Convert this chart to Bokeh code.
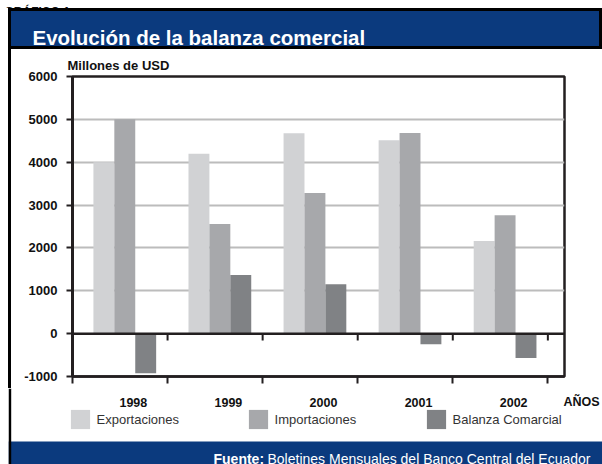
from bokeh.plotting import figure
from bokeh.models import (ColumnDataSource, FixedTicker, Span, Label, BoxAnnotation,
                          Legend, LegendItem, Range1d, Spacer)
from bokeh.layouts import column, row
from bokeh.transform import dodge
from bokeh.core.properties import value
from bokeh.embed import file_html
from bokeh.resources import INLINE

# ---------------- data ----------------
years = ["1998", "1999", "2000", "2001", "2002"]
exportaciones = [4000, 4200, 4675, 4510, 2160]
importaciones = [5000, 2560, 3280, 4680, 2765]
balanza = [-925, 1370, 1150, -250, -570]
y_ticks = [-1000, 0, 1000, 2000, 3000, 4000, 5000, 6000]
grid_values = [1000, 2000, 3000, 4000, 5000]

chart_number = "GRÁFICO 1"
title_text = "Evolución de la balanza comercial"
unit_text = "Millones de USD"
axis_text = "AÑOS"
source_bold = "Fuente:"
source_text = "Boletines Mensuales del Banco Central del Ecuador"
series_names = ["Exportaciones", "Importaciones", "Balanza Comarcial"]

# ---------------- style ----------------
colors = ["#d1d2d4", "#a7a8ab", "#808285"]
NAVY = "#0b3a7e"
INK = "#231f20"
FONT = "Liberation Sans"

PAGE_W, PAGE_H = 602, 464
LEFT_GAP = 8
TOP_H = 8
BOX_W = PAGE_W - LEFT_GAP          # 594
STRIP_W = 3
MAIN_W = BOX_W - STRIP_W            # 591
HEAD_H = 41
MAIN_H = 339
FOOT_H = PAGE_H - TOP_H - HEAD_H - MAIN_H   # 76
FL, FR, FT, FB = 61, 38, 27, 12
GROUP_SHIFT = 0.05
LABEL_SHIFT = 0.14
BAR_W = 0.22
X_START, X_END = -0.5, 4.675
UNIT_PX = (MAIN_W - FL - FR) / (X_END - X_START)


def blank(w, h, fill, x_range=None, y_range=None):
    f = figure(width=w, height=h, output_backend="svg", toolbar_location=None,
               x_range=x_range or Range1d(0, 1), y_range=y_range or Range1d(0, 1),
               x_axis_location=None, y_axis_location=None, min_border=0)
    f.grid.visible = False
    f.background_fill_color = fill
    f.border_fill_color = fill
    f.outline_line_color = None
    return f


def screen_label(f, x, y, text, size, color, style="normal"):
    f.add_layout(Label(x=x, y=y, x_units="screen", y_units="screen", text=text,
                       text_font=FONT, text_font_size=size, text_font_style=style,
                       text_color=color, text_baseline="alphabetic"))


# ---------------- top strip (cut-off chart number) ----------------
top = blank(PAGE_W, TOP_H, "white")
screen_label(top, 4, 0.5, chart_number, "12px", "#111111", "bold")

# ---------------- header ----------------
head = blank(BOX_W, HEAD_H, NAVY)
head.outline_line_color = "black"
head.outline_line_width = 5
screen_label(head, 24, 12.3, title_text, "20.5px", "white", "bold")

# ---------------- main chart ----------------
idx = list(range(len(years)))
src = ColumnDataSource(dict(
    x=[i + GROUP_SHIFT for i in idx],
    exp=exportaciones, imp=importaciones, bal=balanza,
))

p = figure(width=MAIN_W, height=MAIN_H, output_backend="svg", toolbar_location=None,
           x_range=Range1d(X_START, X_END), y_range=Range1d(-1000, 6000),
           min_border_left=FL, min_border_right=FR,
           min_border_top=FT, min_border_bottom=FB)
p.background_fill_color = "white"
p.border_fill_color = "white"
p.outline_line_color = INK
p.outline_line_width = 2.5

p.title.text = unit_text
p.title.text_font = FONT
p.title.text_font_size = "13px"
p.title.text_font_style = "bold"
p.title.text_color = "#111111"
p.title.align = "left"
p.title.offset = -5
p.title.standoff = 7

p.xgrid.visible = False
p.ygrid.ticker = FixedTicker(ticks=grid_values)
p.ygrid.grid_line_color = "#bcbcbc"
p.ygrid.grid_line_width = 1.8

p.vbar(x=dodge("x", -BAR_W), top="exp", width=BAR_W, source=src,
       fill_color=colors[0], line_color=None)
p.vbar(x="x", top="imp", width=BAR_W, source=src,
       fill_color=colors[1], line_color=None)
p.vbar(x=dodge("x", BAR_W), top="bal", width=BAR_W, source=src,
       fill_color=colors[2], line_color=None)

p.add_layout(Span(location=0, dimension="width", line_color=INK, line_width=2.5))
bounds = [i + 0.5 for i in idx]
p.segment(x0=bounds, y0=[0] * len(bounds), x1=bounds, y1=[-160] * len(bounds),
          line_color=INK, line_width=2)

ya = p.yaxis[0]
ya.ticker = FixedTicker(ticks=y_ticks)
ya.major_label_overrides = {t: str(t) for t in y_ticks}
ya.axis_line_color = INK
ya.axis_line_width = 3
ya.major_tick_out = 6
ya.major_tick_in = 0
ya.major_tick_line_width = 2
ya.major_tick_line_color = INK
ya.minor_tick_line_color = None
ya.major_label_text_font = FONT
ya.major_label_text_font_style = "bold"
ya.major_label_text_font_size = "13px"
ya.major_label_text_color = "#111111"
ya.major_label_standoff = 9

# x axis: only the separators between the years
xa = p.xaxis[0]
xa.ticker = FixedTicker(ticks=[], minor_ticks=[X_START] + bounds)
xa.axis_line_color = INK
xa.axis_line_width = 2.5
xa.major_tick_line_color = None
xa.minor_tick_out = 7
xa.minor_tick_in = 0
xa.minor_tick_line_width = 2
xa.minor_tick_line_color = INK

strip = Spacer(width=STRIP_W, height=MAIN_H, styles={"background-color": "black"})

# ---------------- year labels, legend, footer ----------------
# same horizontal scale as the chart above (shared pixel mapping)
foot_x = Range1d(X_START - (STRIP_W + FL) / UNIT_PX, X_END + FR / UNIT_PX)
foot = blank(BOX_W, FOOT_H, "white", x_range=foot_x, y_range=Range1d(0, FOOT_H))

YEAR_Y = FOOT_H - 13.7
label_pos = [i + LABEL_SHIFT for i in idx]
foot.text(x=label_pos, y=[YEAR_Y] * len(years), text=years,
          text_font=value(FONT), text_font_style="bold", text_font_size="12.5px",
          text_color="#111111", text_align="center", text_baseline="alphabetic")
screen_label(foot, 555, YEAR_Y, axis_text, "12.5px", "#111111", "bold")

BAND_H = 23
foot.add_layout(BoxAnnotation(left=0, right=BOX_W, bottom=0, top=BAND_H,
                              left_units="screen", right_units="screen",
                              top_units="screen", bottom_units="screen",
                              fill_color=NAVY, fill_alpha=1, line_color=None))
foot.add_layout(BoxAnnotation(left=0, right=2.7, bottom=0, top=FOOT_H,
                              left_units="screen", right_units="screen",
                              top_units="screen", bottom_units="screen",
                              fill_color="black", fill_alpha=1, line_color=None))
screen_label(foot, 205, 6, source_bold, "14px", "white", "bold")
screen_label(foot, 259, 6, source_text, "14px", "white")

# legend keys: zero-size proxies carrying each series' fill colour
keys = [foot.vbar(x=[0], top=[0], width=0, fill_color=c, line_color=None) for c in colors]
legend = Legend(items=[LegendItem(label=n, renderers=[k]) for n, k in zip(series_names, keys)],
                orientation="horizontal", location=(59.6, FOOT_H - 43.4),
                glyph_width=24, glyph_height=24, label_standoff=5,
                label_width=140, spacing=9, padding=0, margin=0,
                border_line_color=None, background_fill_alpha=0,
                label_text_font=FONT, label_text_font_size="13px",
                label_text_color="#333333")
foot.add_layout(legend)

layout = column(top,
                row(Spacer(width=LEFT_GAP, height=PAGE_H - TOP_H),
                    column(head, row(strip, p), foot)))

open("out.html", "w").write(file_html(layout, INLINE))
